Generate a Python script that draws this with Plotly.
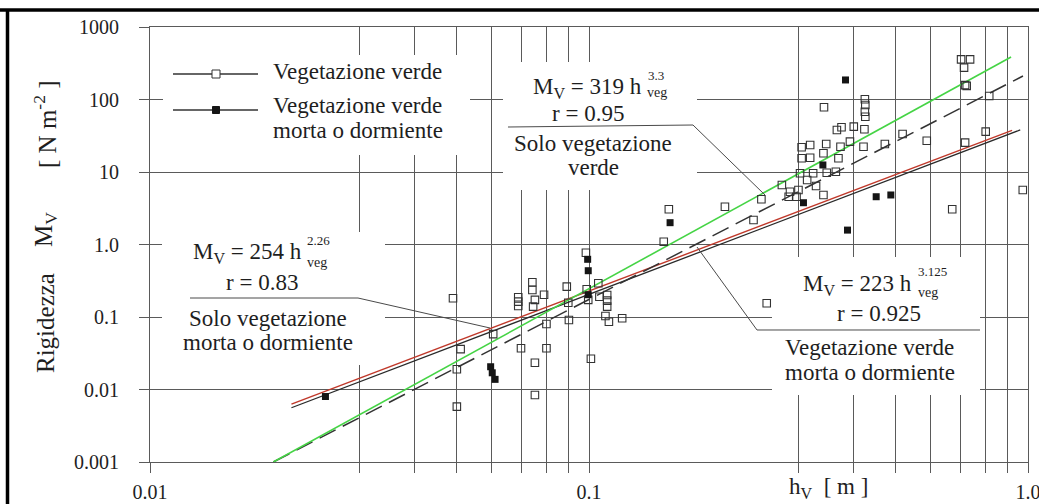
import plotly.graph_objects as go

# ---------------- data ----------------
green_x = [0.049, 0.051, 0.050, 0.050, 0.0605, 0.069, 0.069, 0.069, 0.070, 0.0743,
           0.0743, 0.0753, 0.0746, 0.079, 0.080, 0.080, 0.0753, 0.0753, 0.089, 0.0897,
           0.090, 0.0984, 0.0988, 0.0996, 0.101, 0.105, 0.1056, 0.110, 0.110, 0.110,
           0.109, 0.111, 0.119,
           0.148, 0.152, 0.204, 0.237, 0.247, 0.254,
           0.275, 0.287, 0.300, 0.285, 0.297, 0.342, 0.3025, 0.324, 0.348, 0.365,
           0.314, 0.329, 0.305, 0.319, 0.342, 0.370, 0.305, 0.319, 0.347, 0.374,
           0.343, 0.425, 0.426, 0.425, 0.426, 0.367, 0.376, 0.401, 0.424, 0.393,
           0.422, 0.472, 0.518, 0.588, 0.719, 0.801, 0.704, 0.738, 0.715, 0.719,
           0.725, 0.816, 0.973, 0.672]
green_y = [0.181, 0.036, 0.019, 0.0058, 0.058, 0.187, 0.163, 0.142, 0.037, 0.301,
           0.236, 0.172, 0.139, 0.203, 0.080, 0.037, 0.0234, 0.0084, 0.262, 0.157,
           0.091, 0.77, 0.241, 0.172, 0.0266, 0.292, 0.19, 0.201, 0.168, 0.139,
           0.103, 0.086, 0.096,
           1.09, 3.06, 3.32, 2.18, 4.20, 0.155,
           6.62, 5.35, 5.65, 4.56, 4.56, 4.82, 9.6, 9.6, 9.78, 10.1,
           7.76, 6.41, 15.5, 15.7, 18.1, 15.5, 21.9, 23.6, 24.3, 22.3,
           78.1, 100.6, 84.0, 67.9, 57.9, 38.0, 41.4, 42.2, 38.8, 26.2,
           22.3, 24.3, 33.4, 27.0, 25.4, 36.0, 358, 358, 275, 158,
           154, 112, 5.65, 3.06]

dead_x = [0.0251, 0.0597, 0.0602, 0.0611, 0.0993, 0.0996, 0.0996, 0.153, 0.308,
          0.341, 0.384, 0.388, 0.451, 0.487]
dead_y = [0.0080, 0.0206, 0.0170, 0.0138, 0.625, 0.435, 0.203, 2.00, 3.77,
          12.5, 186, 1.58, 4.56, 4.82]

# regression lines (end points)
fit_dead_x = [0.021, 0.96]      # M = 254 h^2.26 (black)
fit_dead_y = [0.0056, 38.0]
fit_dead_red_x = [0.021, 0.92]  # red overlay
fit_dead_red_y = [0.0063, 37.5]
fit_green_x = [0.0191, 0.915]   # M = 319 h^3.3
fit_green_y = [0.001, 386]
fit_all_x = [0.0191, 0.974]     # M = 223 h^3.125 (dashed)
fit_all_y = [0.001, 211]

x_tickvals = [0.01, 0.1, 1.0]
x_ticktext = ["0.01", "0.1", "1.0"]
x_minorvals = [0.03, 0.04, 0.05, 0.06, 0.07, 0.08, 0.09,
               0.3, 0.4, 0.5, 0.6, 0.7, 0.8, 0.9]
y_tickvals = [0.001, 0.01, 0.1, 1, 10, 100, 1000]
y_ticktext = ["0.001", "0.01", "0.1", "1.0", "10", "100", "1000"]

# ---------------- layout helpers ----------------
W, H = 1039, 504
L, R, T, B = 150, 1028, 27, 462


def X(px):
    return (px - L) / (R - L)


def Y(py):
    return (B - py) / (B - T)


FONT = "Liberation Serif, Times New Roman, serif"
TXT = "#1e1e1e"
GRID = "#5a5a5a"
FS = 23

fig = go.Figure()

fig.add_trace(go.Scatter(x=fit_dead_x, y=fit_dead_y, mode="lines",
                         line=dict(color="#2a2a2a", width=1.3), showlegend=False))
fig.add_trace(go.Scatter(x=fit_dead_red_x, y=fit_dead_red_y, mode="lines",
                         line=dict(color="#c0392b", width=1.4), showlegend=False))
fig.add_trace(go.Scatter(x=fit_all_x, y=fit_all_y, mode="lines",
                         line=dict(color="#333333", width=1.5, dash="18px,8px"),
                         showlegend=False))
fig.add_trace(go.Scatter(x=fit_green_x, y=fit_green_y, mode="lines",
                         line=dict(color="#45d445", width=1.6), showlegend=False))
fig.add_trace(go.Scatter(x=green_x, y=green_y, mode="markers",
                         marker=dict(symbol="square-open", size=7.5, color="#333333",
                                     line=dict(width=1.1)),
                         showlegend=False))
fig.add_trace(go.Scatter(x=dead_x, y=dead_y, mode="markers",
                         marker=dict(symbol="square", size=7, color="#151515"),
                         showlegend=False))

shapes = []
# white areas interrupting the grid (around the text blocks)
for (x0, y0, x1, y1) in [(163, 55, 470, 155), (503, 62, 697, 190),
                         (162, 232, 385, 365), (772, 257, 980, 395)]:
    shapes.append(dict(type="rect", xref="paper", yref="paper",
                       x0=X(x0), x1=X(x1), y0=Y(y1), y1=Y(y0),
                       fillcolor="white", line=dict(width=0), layer="above"))


def path(points):
    return "M " + " L ".join(f"{X(a):.5f},{Y(b):.5f}" for a, b in points)


for pts in [[(190, 298), (358, 298), (490, 328)],
            [(508, 127), (693, 125), (765, 195)],
            [(697, 247), (757, 330), (980, 330)]]:
    shapes.append(dict(type="path", xref="paper", yref="paper", path=path(pts),
                       line=dict(color="#4a4a4a", width=1), layer="above"))

# legend samples
for py in (74, 110):
    shapes.append(dict(type="line", xref="paper", yref="paper",
                       x0=X(173), x1=X(258), y0=Y(py), y1=Y(py),
                       line=dict(color="#333333", width=1.3)))
shapes.append(dict(type="rect", xref="paper", yref="paper",
                   x0=X(212), x1=X(220), y0=Y(78), y1=Y(70),
                   fillcolor="white", line=dict(color="#333333", width=1)))
shapes.append(dict(type="rect", xref="paper", yref="paper",
                   x0=X(212.5), x1=X(219.5), y0=Y(113.5), y1=Y(106.5),
                   fillcolor="#151515", line=dict(color="#151515", width=1)))

# scan frame (top and left)
shapes.append(dict(type="line", xref="paper", yref="paper",
                   x0=X(0), x1=X(W), y0=Y(10), y1=Y(10),
                   line=dict(color="black", width=3.5)))
shapes.append(dict(type="line", xref="paper", yref="paper",
                   x0=X(7.5), x1=X(7.5), y0=Y(10), y1=Y(H),
                   line=dict(color="black", width=3.5)))

annotations = []


def ann(text, px, py, anchor="center", size=FS, angle=0):
    annotations.append(dict(text=text, x=X(px), y=Y(py), xref="paper", yref="paper",
                            xanchor=anchor, yanchor="middle", showarrow=False,
                            textangle=angle,
                            font=dict(family=FONT, size=size, color=TXT)))


# legend text
ann("Vegetazione verde", 271, 71, "left")
ann("Vegetazione verde", 271, 106, "left")
ann("morta o dormiente", 271, 130, "left")
# block A
ann("M<sub>V</sub> = 254 h", 304, 253, "right")
ann("2.26", 305, 240, "left", 13)
ann("veg", 305, 262, "left", 14)
ann("r = 0.83", 262, 282)
ann("Solo vegetazione", 268, 318)
ann("morta o dormiente", 268, 342)
# block B
ann("M<sub>V</sub> = 319 h", 644, 88, "right")
ann("3.3", 646, 75, "left", 13)
ann("veg", 645, 93, "left", 14)
ann("r = 0.95", 588, 113)
ann("Solo vegetazione", 593, 143)
ann("verde", 593, 167)
# block C
ann("M<sub>V</sub> = 223 h", 914, 285, "right")
ann("3.125", 916, 271, "left", 13)
ann("veg", 916, 292, "left", 14)
ann("r = 0.925", 879, 313)
ann("Vegetazione verde", 869, 347)
ann("morta o dormiente", 870, 372)
# axis titles
ann("Rigidezza", 45, 323, size=25, angle=-90)
ann("M<sub>V</sub>", 45, 230, size=25, angle=-90)
ann("[ N m<sup>-2</sup> ]", 45, 125, size=25, angle=-90)
ann("h<sub>V</sub>&nbsp;&nbsp;[ m ]", 828, 488, size=23)

axis_common = dict(type="log", showgrid=True, gridcolor=GRID, gridwidth=1,
                   zeroline=False, showline=True, linecolor=GRID, linewidth=1,
                   mirror=True, ticks="outside", ticklen=10, tickcolor=GRID,
                   tickwidth=1, automargin=False, ticklabeloverflow="allow",
                   tickfont=dict(family=FONT, size=20, color=TXT))

fig.update_layout(
    width=W, height=H, autosize=False,
    margin=dict(l=L, r=W - R, t=T, b=H - B, pad=0, autoexpand=False),
    paper_bgcolor="white", plot_bgcolor="white",
    showlegend=False,
    xaxis=dict(range=[-2, 0], tickmode="array", tickvals=x_tickvals,
               ticktext=x_ticktext, ticklabelstandoff=2,
               minor=dict(tickmode="array", tickvals=x_minorvals, showgrid=True,
                          gridcolor=GRID, gridwidth=1, ticks="outside",
                          ticklen=10, tickcolor=GRID),
               **axis_common),
    yaxis=dict(range=[-3, 3], tickmode="array", tickvals=y_tickvals,
               ticktext=y_ticktext, ticklabelstandoff=16, **axis_common),
    shapes=shapes,
    annotations=annotations,
)

fig.write_html("out.html", config={"displayModeBar": False},
               post_script="document.body.style.margin='0';"
                           "document.body.style.overflow='hidden';")
